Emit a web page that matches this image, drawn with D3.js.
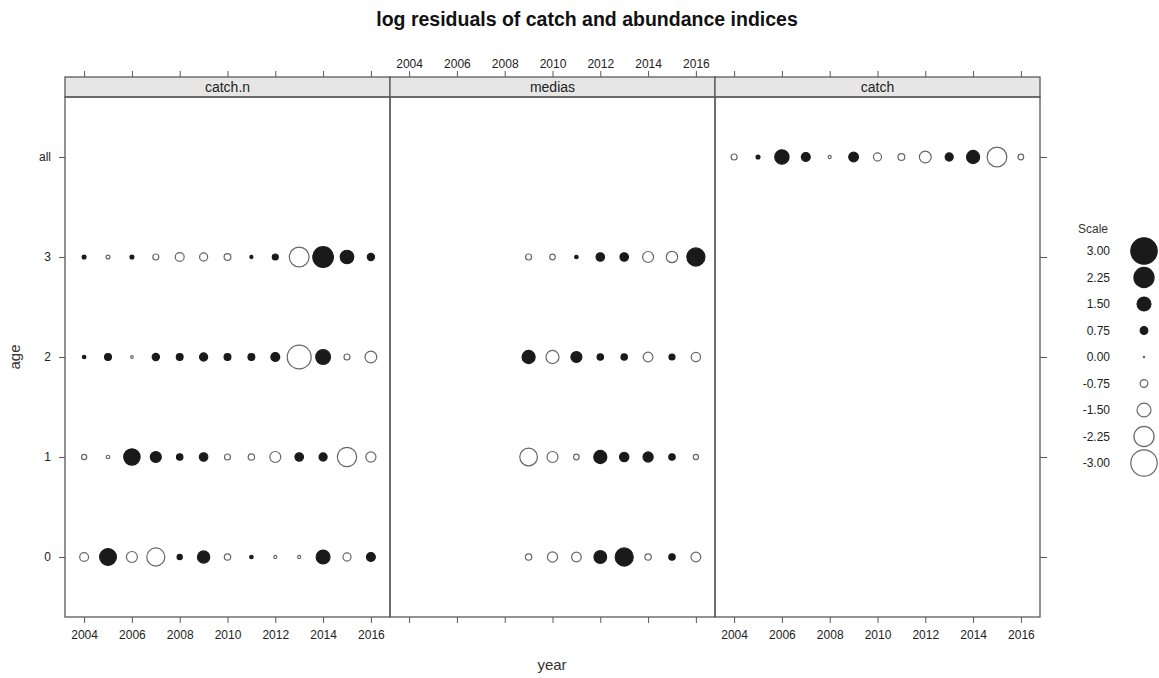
<!DOCTYPE html>
<html>
<head>
<meta charset="utf-8">
<title>log residuals of catch and abundance indices</title>
<script src="https://d3js.org/d3.v7.min.js"></script>
<style>
  body { margin: 0; background: #fff; }
  text { font-family: "Liberation Sans", Arial, sans-serif; }
</style>
</head>
<body>
<svg id="chart" width="1159" height="678"></svg>
<script>
// years and age classes
var years = [2004, 2005, 2006, 2007, 2008, 2009, 2010, 2011, 2012, 2013, 2014, 2015, 2016];
var ages = ["0", "1", "2", "3", "all"];
var panels = ["catch.n", "medias", "catch"];

// catch.n residuals by age (2004-2016)
var catchN0 = [-0.9, 1.85, -1.15, -2.0, 0.45, 1.3, -0.6, 0.25, -0.2, -0.2, 1.5, -0.8, 0.9];
var catchN1 = [-0.45, -0.25, 1.8, 1.15, 0.6, 0.85, -0.55, -0.6, -1.15, 0.85, 0.8, -2.15, -1.05];
var catchN2 = [0.25, 0.65, -0.15, 0.7, 0.65, 0.8, 0.65, 0.65, 0.9, -2.7, 1.6, -0.55, -1.25];
var catchN3 = [0.3, -0.3, 0.3, -0.55, -0.9, -0.8, -0.65, 0.2, 0.55, -2.2, 2.3, 1.45, 0.7];

// medias residuals by age (2009-2016)
var mediasYears = [2009, 2010, 2011, 2012, 2013, 2014, 2015, 2016];
var medias0 = [-0.6, -1.05, -1.0, 1.35, 2.0, -0.6, 0.6, -1.0];
var medias1 = [-1.95, -1.15, -0.5, 1.4, 0.95, 1.05, 0.6, -0.45];
var medias2 = [1.4, -1.4, 1.15, 0.6, 0.6, -1.0, 0.55, -0.95];
var medias3 = [-0.55, -0.5, 0.25, 0.85, 0.85, -1.15, -1.2, 2.0];

// catch residuals, age "all" (2004-2016)
var catchAll = [-0.55, 0.3, 1.55, 0.9, -0.2, 1.0, -0.8, -0.65, -1.25, 0.8, 1.4, -2.2, -0.5];

var scaleValues = [3.00, 2.25, 1.50, 0.75, 0.00, -0.75, -1.50, -2.25, -3.00];
var xTicks = [2004, 2006, 2008, 2010, 2012, 2014, 2016];

// build point table
var points = [];
function addRow(panel, age, yrs, vals) {
  yrs.forEach(function(y, i) {
    points.push({ panel: panel, age: age, year: y, value: vals[i] });
  });
}
addRow("catch.n", "0", years, catchN0);
addRow("catch.n", "1", years, catchN1);
addRow("catch.n", "2", years, catchN2);
addRow("catch.n", "3", years, catchN3);
addRow("medias", "0", mediasYears, medias0);
addRow("medias", "1", mediasYears, medias1);
addRow("medias", "2", mediasYears, medias2);
addRow("medias", "3", mediasYears, medias3);
addRow("catch", "all", years, catchAll);

var svg = d3.select("#chart");

var left = 65, panelW = 325;
var stripTop = 77, stripH = 20;
var plotTop = stripTop + stripH, plotBottom = 617;

var xPanel = d3.scaleBand().domain(panels).range([left, left + panelW * 3]);
var x = d3.scaleLinear().domain([2003.2, 2016.8]).range([0, panelW]);
var y = d3.scaleLinear().domain([-0.6, 4.6]).range([plotBottom, plotTop]);
var ageIndex = function(a) { return ages.indexOf(a); };
var r = d3.scaleLinear().domain([0, 3]).range([0.7, 13.2]);

var frameCol = "#595959", textCol = "#222";

// title
svg.append("text")
  .attr("x", 587).attr("y", 26)
  .attr("text-anchor", "middle")
  .style("font-size", "19.5px").style("font-weight", "bold")
  .style("fill", "#111")
  .text("log residuals of catch and abundance indices");

panels.forEach(function(p, pi) {
  var g = svg.append("g").attr("transform", "translate(" + xPanel(p) + ",0)");

  // bottom axis
  var bAxis = d3.axisBottom(x).tickValues(xTicks).tickSize(6).tickSizeOuter(0)
    .tickFormat(pi === 1 ? "" : d3.format("d"));
  var gb = g.append("g").attr("transform", "translate(0," + plotBottom + ")").call(bAxis);
  // top axis
  var tAxis = d3.axisTop(x).tickValues(xTicks).tickSize(6).tickSizeOuter(0)
    .tickFormat(pi === 1 ? d3.format("d") : "");
  var gt = g.append("g").attr("transform", "translate(0," + stripTop + ")").call(tAxis);
  [gb, gt].forEach(function(a) {
    a.select(".domain").remove();
    a.selectAll(".tick line").attr("stroke", frameCol);
    a.selectAll(".tick text").style("font-size", "12px").style("fill", textCol)
      .style("font-family", "'Liberation Sans', Arial, sans-serif");
  });
  gb.selectAll(".tick text").attr("dy", "1.05em");

  // strip
  g.append("rect")
    .attr("x", 0).attr("y", stripTop).attr("width", panelW).attr("height", stripH)
    .attr("fill", "#e6e6e6").attr("stroke", frameCol).attr("stroke-width", 1.3);
  g.append("text")
    .attr("x", panelW / 2).attr("y", stripTop + stripH / 2).attr("dy", "0.36em")
    .attr("text-anchor", "middle")
    .style("font-size", "14px").style("fill", "#222")
    .text(p);

  // frame
  g.append("rect")
    .attr("x", 0).attr("y", plotTop).attr("width", panelW).attr("height", plotBottom - plotTop)
    .attr("fill", "none").attr("stroke", frameCol).attr("stroke-width", 1.3);

  // bubbles
  g.selectAll("circle.pt")
    .data(points.filter(function(d) { return d.panel === p; }))
    .enter().append("circle")
    .attr("class", "pt")
    .attr("cx", function(d) { return x(d.year); })
    .attr("cy", function(d) { return y(ageIndex(d.age)); })
    .attr("r", function(d) { return r(Math.abs(d.value)); })
    .attr("fill", function(d) { return d.value > 0 ? "#1a1a1a" : "#fff"; })
    .attr("stroke", function(d) { return d.value > 0 ? "#1a1a1a" : "#666"; })
    .attr("stroke-width", 1.2);
});

// left y axis
var yAxisL = d3.axisLeft(y).tickValues(d3.range(ages.length)).tickSize(6).tickSizeOuter(0)
  .tickFormat(function(i) { return ages[i]; });
var gl = svg.append("g").attr("transform", "translate(" + left + ",0)").call(yAxisL);
gl.select(".domain").remove();
gl.selectAll(".tick line").attr("stroke", frameCol);
gl.selectAll(".tick text").style("font-size", "12px").style("fill", textCol)
  .style("font-family", "'Liberation Sans', Arial, sans-serif").attr("x", -14);

// right y axis (ticks only)
var yAxisR = d3.axisRight(y).tickValues(d3.range(ages.length)).tickSize(7).tickSizeOuter(0)
  .tickFormat("");
var gr = svg.append("g").attr("transform", "translate(" + (left + panelW * 3) + ",0)").call(yAxisR);
gr.select(".domain").remove();
gr.selectAll(".tick line").attr("stroke", frameCol);

// axis titles
svg.append("text")
  .attr("x", 552).attr("y", 670)
  .attr("text-anchor", "middle")
  .style("font-size", "15px").style("fill", "#333")
  .text("year");
svg.append("text")
  .attr("transform", "translate(20," + y(2) + ") rotate(-90)")
  .attr("text-anchor", "middle")
  .style("font-size", "15px").style("fill", "#333")
  .text("age");

// legend
var legY = d3.scalePoint().domain(scaleValues).range([251, 463]);
svg.append("text")
  .attr("x", 1093).attr("y", 233)
  .attr("text-anchor", "middle")
  .style("font-size", "12px").style("fill", "#333")
  .text("Scale");
var leg = svg.selectAll(".leg")
  .data(scaleValues)
  .enter().append("g")
  .attr("class", "leg")
  .attr("transform", function(d) { return "translate(0," + legY(d) + ")"; });
leg.append("text")
  .attr("x", 1110).attr("dy", "0.36em")
  .attr("text-anchor", "end")
  .style("font-size", "12px").style("fill", "#222")
  .text(function(d) { return d.toFixed(2); });
leg.append("circle")
  .attr("cx", 1144)
  .attr("r", function(d) { return r(Math.abs(d)); })
  .attr("fill", function(d) { return d > 0 ? "#1a1a1a" : "#fff"; })
  .attr("stroke", function(d) { return d > 0 ? "#1a1a1a" : "#666"; })
  .attr("stroke-width", 1.2);
</script>
</body>
</html>
